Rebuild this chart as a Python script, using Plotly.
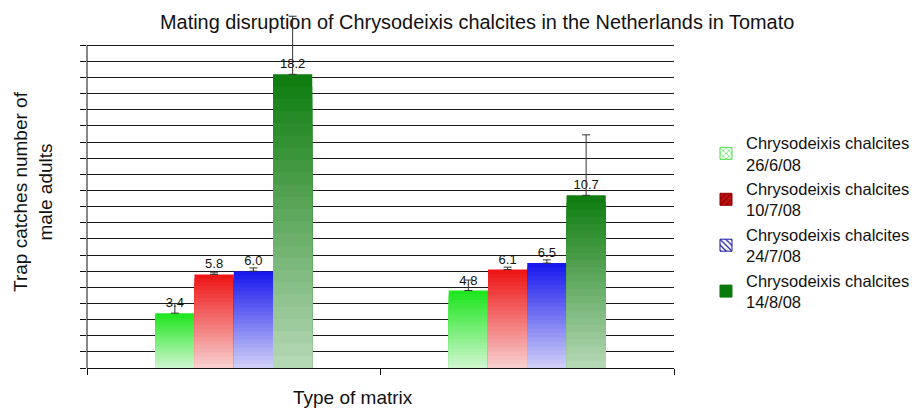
import plotly.graph_objects as go

# ---- data ----
categories = ["Matrix 1", "Matrix 2"]
series_names = [
    "Chrysodeixis chalcites<br>26/6/08",
    "Chrysodeixis chalcites<br>10/7/08",
    "Chrysodeixis chalcites<br>24/7/08",
    "Chrysodeixis chalcites<br>14/8/08",
]
val_2606 = [3.4, 4.8]
val_1007 = [5.8, 6.1]
val_2407 = [6.0, 6.5]
val_1408 = [18.2, 10.7]
err_2606 = [0.6, 0.65]
err_1007 = [0.1, 0.15]
err_2407 = [0.2, 0.2]
err_1408 = [3.6, 3.75]
y_ticks = list(range(0, 21))

values = [val_2606, val_1007, val_2407, val_1408]
errors = [err_2606, err_1007, err_2407, err_1408]

# gradient colours (top -> bottom)
top_cols = [(30, 230, 30), (238, 22, 22), (25, 25, 238), (15, 125, 15)]
bot_cols = [(205, 246, 205), (248, 205, 205), (205, 205, 248), (180, 215, 180)]

# legend swatch styles
leg_colors = ["#4fe04f", "#8b0000", "#1a1aa0", "#0a7a0a"]
leg_shapes = ["x", "/", "\\", ""]
leg_bg = ["white", "#c01010", "white", "#0a7a0a"]

N_BANDS = 24
FONT = "Liberation Sans, Arial"
TXT = "#111111"

fig = go.Figure()


def mix(c1, c2, t):
    return "rgb(%d,%d,%d)" % tuple(round(a + (b - a) * t) for a, b in zip(c1, c2))


for i, (vals, errs) in enumerate(zip(values, errors)):
    og = str(i)
    for k in range(N_BANDS):
        frac = 1 - k / N_BANDS
        t = k / (N_BANDS - 1)
        kw = {}
        if k == 0:
            kw = dict(
                error_y=dict(type="data", array=errs, symmetric=False, arrayminus=[0] * len(errs),
                             color="#333333", thickness=1, width=4),
                text=["%.1f" % v for v in vals],
                textposition="outside",
                textfont=dict(size=13, color=TXT, family=FONT),
                cliponaxis=False,
            )
        fig.add_trace(go.Bar(
            x=categories,
            y=[v * frac for v in vals],
            offsetgroup=og,
            marker=dict(color=mix(top_cols[i], bot_cols[i], t), line=dict(width=0)),
            showlegend=False,
            hoverinfo="skip",
            **kw,
        ))
    # legend-only entry
    fig.add_trace(go.Bar(
        x=categories,
        y=[None] * len(categories),
        offsetgroup=og,
        name=series_names[i],
        marker=dict(
            color=leg_colors[i],
            line=dict(color=leg_colors[i], width=1),
            pattern=dict(shape=leg_shapes[i], fgcolor=leg_colors[i], bgcolor=leg_bg[i],
                         size=5, solidity=0.3, fillmode="replace"),
        ),
        showlegend=True,
    ))

fig.update_layout(
    width=915,
    height=408,
    margin=dict(l=87, r=241, t=13, b=40, autoexpand=False),
    paper_bgcolor="white",
    plot_bgcolor="white",
    font=dict(family=FONT, color=TXT),
    barmode="group",
    bargap=0.465,
    bargroupgap=0,
    legend=dict(
        x=1.0545, xanchor="left", y=0.41, yanchor="middle",
        font=dict(size=16.5, color=TXT),
        itemwidth=30,
        bgcolor="rgba(0,0,0,0)",
    ),
    showlegend=True,
    annotations=[
        dict(text="Mating disruption of Chrysodeixis chalcites in the Netherlands in Tomato",
             xref="paper", yref="paper", x=0.664, y=0.975, xanchor="center", yanchor="middle",
             showarrow=False, font=dict(size=19.9, color=TXT, family=FONT)),
        dict(text="Trap catches number of<br>male adults",
             xref="paper", yref="paper", x=-0.092, y=0.4986, xanchor="center", yanchor="middle",
             textangle=-90, showarrow=False, font=dict(size=19, color=TXT, family=FONT)),
        dict(text="Type of matrix",
             xref="paper", yref="paper", x=0.453, y=-0.0845, xanchor="center", yanchor="middle",
             showarrow=False, font=dict(size=19, color=TXT, family=FONT)),
    ],
    shapes=[
        dict(type="line", xref="paper", yref="y", x0=0, x1=0, y0=y_ticks[0], y1=y_ticks[-1],
             line=dict(color="#111111", width=1)),
    ],
)

fig.update_xaxes(
    showline=True, linecolor="#111111", linewidth=1,
    ticks="outside", tickson="boundaries", ticklen=6, tickcolor="#111111",
    showticklabels=False, showgrid=False, zeroline=False, automargin=False,
)
fig.update_yaxes(
    range=[0, 22], tickmode="array", tickvals=y_ticks,
    showline=False,
    ticks="outside", ticklen=6, tickcolor="#111111",
    showticklabels=False, showgrid=True, gridcolor="#1a1a1a", gridwidth=1, zeroline=False,
    automargin=False,
)

fig.write_html(
    "out.html",
    config={"displayModeBar": False},
    post_script="document.body.style.margin='0';document.body.style.padding='0';",
)
